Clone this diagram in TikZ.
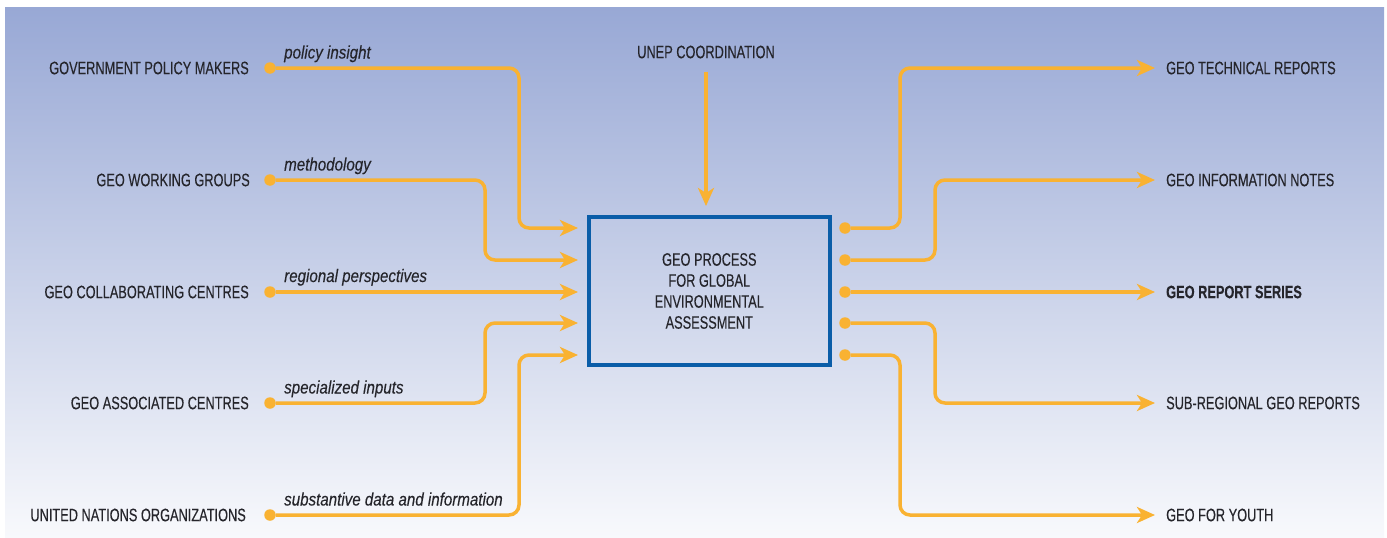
\documentclass[tikz,border=0pt]{standalone}
\usepackage{fontspec}
\setmainfont{Liberation Sans}[FakeStretch=0.71, FakeBold=0.25]
\newfontfamily\remarkfont{Liberation Sans}[FakeStretch=0.84, FakeBold=0.2]
\usepackage{tikz}
\usetikzlibrary{arrows.meta}
\definecolor{geoorange}{HTML}{F9B232}
\definecolor{geoblue}{HTML}{0A5DA8}
\definecolor{geotext}{HTML}{25252B}
\definecolor{bgtop}{HTML}{98A8D5}
\definecolor{bgbottom}{HTML}{F8F9FC}
\tikzset{
	source/.style  = {anchor=east, inner sep=0pt, text=geotext,
		font=\fontsize{18}{21}\selectfont},
	target/.style  = {anchor=west, inner sep=0pt, text=geotext,
		font=\fontsize{18}{21}\selectfont},
	remark/.style  = {anchor=base west, inner sep=0pt, text=geotext,
		font=\remarkfont\itshape\fontsize{18}{21}\selectfont},
	dot/.style     = {circle, fill=geoorange, minimum size=11.5pt, inner sep=0pt},
	process/.style = {draw=geoblue, line width=4pt, rectangle, align=center,
		minimum width=241pt, minimum height=148pt, text=geotext,
		font=\fontsize{18}{21}\selectfont},
	flow/.style    = {draw=geoorange, line width=3.5pt, rounded corners=10pt},
	port/.style    = {coordinate}
}

\begin{document}
\begin{tikzpicture}[x=1pt, y=-1pt, >={Stealth[length=18pt,width=16pt,inset=5pt]}]
	\useasboundingbox (0,0) rectangle (1387,538);
	\shade[top color=bgtop, bottom color=bgbottom] (5,7) rectangle (1384,538);

	\draw
	node at (709.3,291) [process] (geo) {GEO PROCESS\\FOR GLOBAL\\ENVIRONMENTAL\\ASSESSMENT}
	node at (706,52) [source, anchor=center] (unep) {UNEP COORDINATION};

	% inputs
	\draw
	node at (249,68) [source] (gov) {GOVERNMENT POLICY MAKERS}
	node at (250,180) [source] (wgroups) {GEO WORKING GROUPS}
	node at (249,292) [source] (collab) {GEO COLLABORATING CENTRES}
	node at (249,403) [source] (assoc) {GEO ASSOCIATED CENTRES}
	node at (246,515) [source] (unorg) {UNITED NATIONS ORGANIZATIONS}
	node at (270,68) [dot] (d1) {}
	node at (270,180) [dot] (d2) {}
	node at (270,292) [dot] (d3) {}
	node at (270,403) [dot] (d4) {}
	node at (270,515) [dot] (d5) {}
	node at (284,58.5) [remark] {policy insight}
	node at (284,170.5) [remark] {methodology}
	node at (284,282) [remark] {regional perspectives}
	node at (284,393.5) [remark] {specialized inputs}
	node at (284,505.5) [remark] {substantive data and information};

	\draw
	node at (578,228) [port] (in1) {}
	node at (578,260) [port] (in2) {}
	node at (578,292) [port] (in3) {}
	node at (578,323) [port] (in4) {}
	node at (578,355) [port] (in5) {};

	\draw[flow, ->] (d1) -- (519,68) |- (in1);
	\draw[flow, ->] (d2) -- (485,180) |- (in2);
	\draw[flow, ->] (d3) -- (in3);
	\draw[flow, ->] (d4) -- (485,403) |- (in4);
	\draw[flow, ->] (d5) -- (519,515) |- (in5);
	\draw[flow, ->, shorten <=13pt, shorten >=9pt] (unep) -- (unep |- geo.north);

	% outputs
	\draw
	node at (1166,68) [target] (techrep) {GEO TECHNICAL REPORTS}
	node at (1166,180) [target] (infonotes) {GEO INFORMATION NOTES}
	node at (1166,292) [target, font=\bfseries\fontsize{18}{21}\selectfont] (series) {GEO REPORT SERIES}
	node at (1166,403) [target] (subreg) {SUB-REGIONAL GEO REPORTS}
	node at (1166,515) [target] (youth) {GEO FOR YOUTH}
	node at (845,228) [dot] (o1) {}
	node at (845,260) [dot] (o2) {}
	node at (845,292) [dot] (o3) {}
	node at (845,323) [dot] (o4) {}
	node at (845,355) [dot] (o5) {};

	\draw[flow, ->, shorten >=11pt] (o1) -- (900,228) |- (techrep.west);
	\draw[flow, ->, shorten >=11pt] (o2) -- (935,260) |- (infonotes.west);
	\draw[flow, ->, shorten >=11pt] (o3) -- (series.west);
	\draw[flow, ->, shorten >=11pt] (o4) -- (935,323) |- (subreg.west);
	\draw[flow, ->, shorten >=11pt] (o5) -- (900,355) |- (youth.west);
\end{tikzpicture}
\end{document}
